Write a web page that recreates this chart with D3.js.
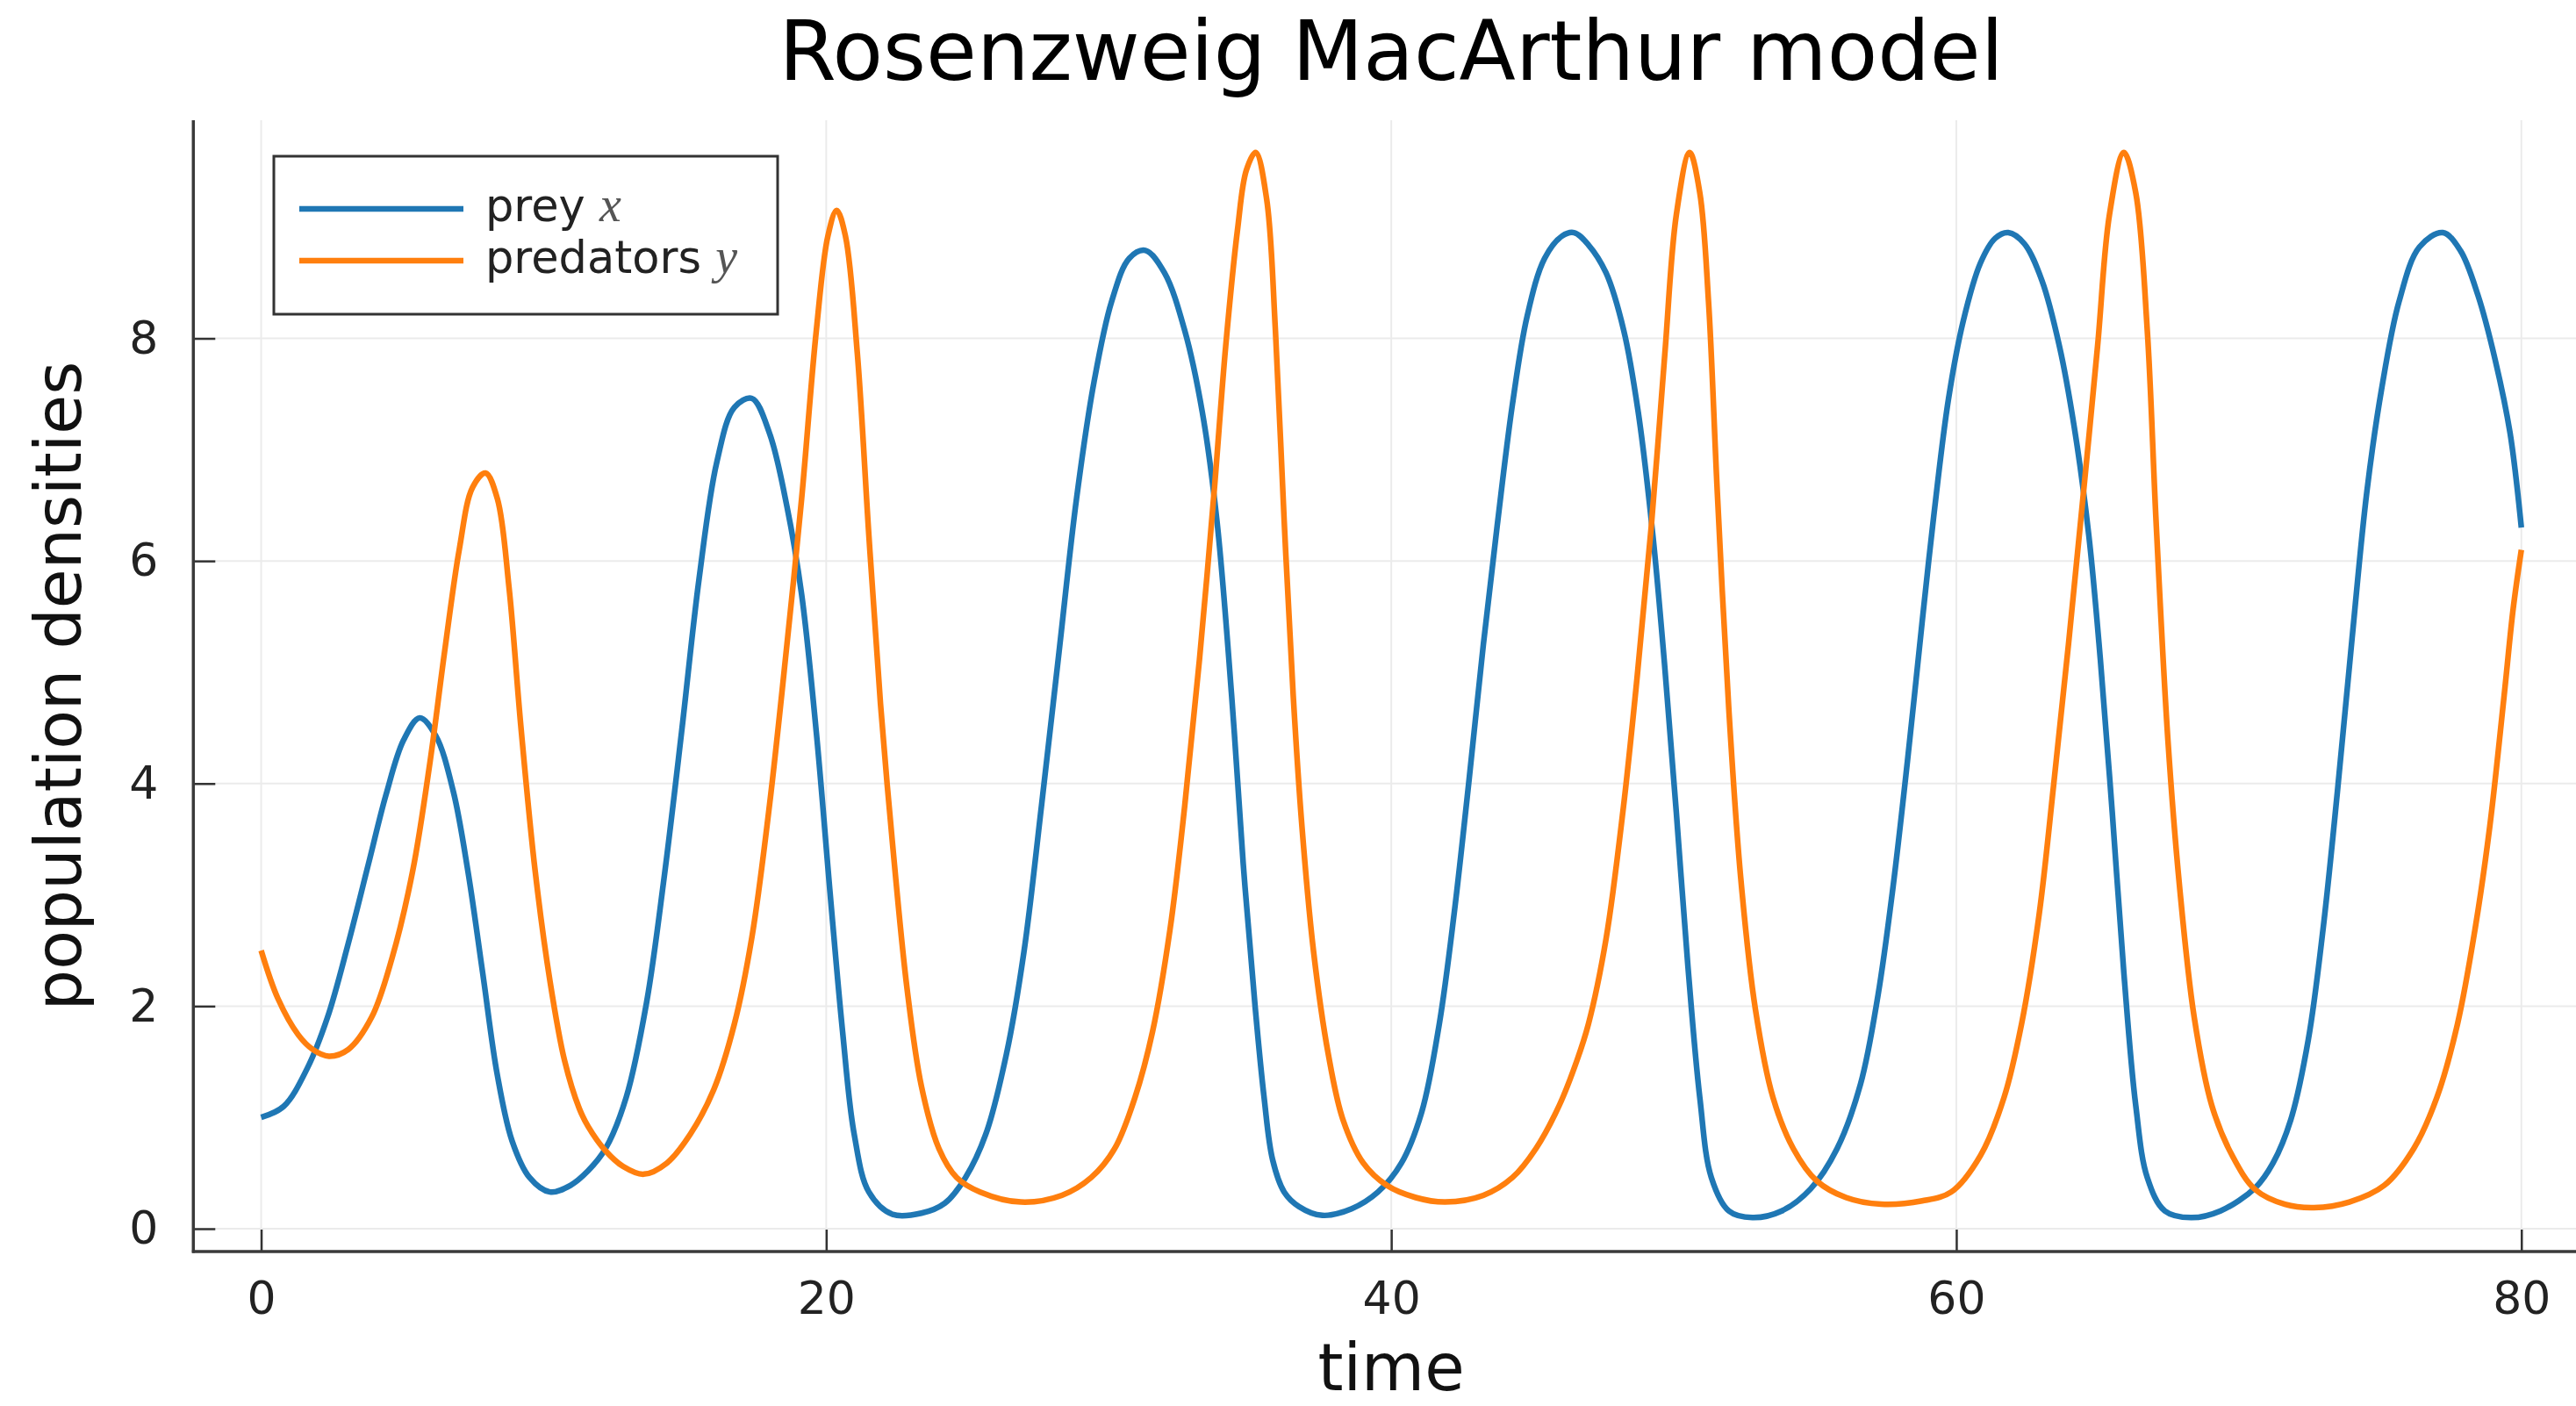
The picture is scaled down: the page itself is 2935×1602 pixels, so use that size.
<!DOCTYPE html>
<html><head><meta charset="utf-8">
<script src="https://cdn.jsdelivr.net/npm/d3@7"></script>
<style>html,body{margin:0;padding:0;background:#fff;} svg{display:block;font-family:"DejaVu Sans",sans-serif;}</style>
</head><body>
<svg id="chart" width="2935" height="1602"></svg>
<script>
const chartTitle = "Rosenzweig MacArthur model";
const xLabel = "time";
const yLabel = "population densities";
const xTicks = [0, 20, 40, 60, 80];
const yTicks = [0, 2, 4, 6, 8];
const seriesNames = ["prey ", "predators "];
const seriesMath = ["x", "y"];
const seriesColors = ["#1f77b4", "#ff7f0e"];

const preyTime = [0, 0.8, 1.63, 2.35, 3.08, 3.8, 4.42, 5.04, 5.61, 6.18, 6.8, 7.32, 7.84, 8.36, 8.88, 9.5, 10.22, 10.95, 11.57, 12.19, 12.92, 13.64, 14.26, 14.88, 15.5, 16.13, 16.75, 17.37, 17.99, 18.61, 19.13, 19.65, 20.16, 20.58, 20.99, 21.51, 22.34, 23.37, 24.2, 24.93, 25.65, 26.38, 27.0, 27.62, 28.24, 28.86, 29.48, 30.1, 30.73, 31.3, 31.97, 32.69, 33.31, 33.83, 34.35, 34.76, 35.18, 35.49, 35.8, 36.21, 36.73, 37.56, 38.6, 39.53, 40.36, 41.08, 41.7, 42.22, 42.74, 43.26, 43.77, 44.29, 44.81, 45.43, 46.05, 46.47, 46.98, 47.6, 48.23, 48.74, 49.26, 49.68, 50.09, 50.5, 50.92, 51.33, 51.95, 52.78, 53.82, 54.85, 55.78, 56.61, 57.23, 57.75, 58.27, 58.79, 59.2, 59.72, 60.24, 60.86, 61.38, 61.84, 62.41, 63.03, 63.65, 64.17, 64.69, 65.1, 65.52, 65.93, 66.35, 66.76, 67.38, 68.31, 69.35, 70.59, 71.21, 71.84, 72.46, 72.98, 73.49, 74.01, 74.53, 75.05, 75.67, 76.39, 77.22, 77.84, 78.46, 79.08, 79.6, 80.0];
const preyValues = [1.0, 1.10, 1.44, 1.90, 2.56, 3.28, 3.90, 4.39, 4.59, 4.43, 3.93, 3.21, 2.30, 1.38, 0.79, 0.46, 0.33, 0.39, 0.52, 0.72, 1.18, 2.03, 3.15, 4.46, 5.84, 6.89, 7.38, 7.46, 7.15, 6.49, 5.70, 4.46, 2.95, 1.77, 0.85, 0.33, 0.13, 0.14, 0.23, 0.46, 0.85, 1.57, 2.49, 3.80, 5.18, 6.56, 7.61, 8.33, 8.72, 8.79, 8.59, 8.07, 7.34, 6.36, 4.79, 3.28, 2.0, 1.2, 0.62, 0.33, 0.20, 0.12, 0.18, 0.33, 0.59, 1.05, 1.84, 2.82, 4.00, 5.25, 6.36, 7.41, 8.20, 8.72, 8.92, 8.95, 8.84, 8.59, 8.07, 7.34, 6.23, 5.05, 3.74, 2.36, 1.18, 0.46, 0.16, 0.10, 0.16, 0.36, 0.72, 1.30, 2.10, 3.05, 4.20, 5.45, 6.40, 7.45, 8.15, 8.68, 8.90, 8.95, 8.85, 8.52, 7.93, 7.21, 6.23, 5.11, 3.74, 2.30, 1.11, 0.46, 0.16, 0.10, 0.16, 0.37, 0.59, 0.98, 1.70, 2.69, 3.93, 5.31, 6.62, 7.54, 8.33, 8.82, 8.95, 8.79, 8.39, 7.80, 7.15, 6.30];

const predTime = [0, 0.59, 1.32, 1.83, 2.4, 3.08, 3.91, 4.63, 5.36, 5.98, 6.49, 7.01, 7.48, 7.94, 8.36, 8.77, 9.19, 9.7, 10.22, 10.74, 11.26, 11.57, 12.19, 12.81, 13.54, 14.36, 15.19, 16.02, 16.75, 17.37, 17.99, 18.61, 19.13, 19.65, 20.06, 20.37, 20.68, 21.1, 21.51, 21.92, 22.34, 22.86, 23.37, 23.99, 24.62, 25.45, 26.89, 28.34, 29.38, 30.21, 30.93, 31.55, 32.17, 32.69, 33.21, 33.73, 34.14, 34.56, 34.87, 35.2, 35.59, 35.9, 36.21, 36.53, 36.84, 37.25, 37.77, 38.29, 39.01, 39.84, 40.87, 41.91, 43.26, 44.29, 45.12, 45.95, 46.57, 46.98, 47.6, 48.2, 48.7, 49.2, 49.68, 50.09, 50.56, 50.92, 51.23, 51.54, 51.95, 52.37, 52.89, 53.51, 54.23, 55.06, 56.1, 57.34, 58.79, 59.82, 60.86, 61.69, 62.31, 62.93, 63.45, 63.97, 64.48, 65.0, 65.42, 65.93, 66.35, 66.76, 67.07, 67.49, 67.9, 68.42, 69.04, 69.76, 70.59, 71.63, 72.66, 73.91, 75.15, 76.19, 77.01, 77.74, 78.36, 78.88, 79.39, 79.71, 80.0];
const predValues = [2.5, 2.07, 1.74, 1.61, 1.55, 1.61, 1.90, 2.43, 3.21, 4.20, 5.18, 6.10, 6.66, 6.79, 6.56, 5.77, 4.52, 3.21, 2.23, 1.51, 1.08, 0.92, 0.70, 0.56, 0.49, 0.59, 0.85, 1.25, 1.84, 2.62, 3.80, 5.25, 6.56, 8.07, 8.92, 9.15, 8.92, 7.87, 6.23, 4.72, 3.48, 2.16, 1.28, 0.72, 0.46, 0.33, 0.24, 0.30, 0.46, 0.72, 1.18, 1.77, 2.69, 3.80, 5.11, 6.62, 7.93, 8.98, 9.51, 9.67, 9.25, 8.07, 6.36, 4.79, 3.61, 2.49, 1.57, 0.98, 0.59, 0.39, 0.28, 0.24, 0.30, 0.46, 0.72, 1.11, 1.51, 1.84, 2.60, 3.75, 4.95, 6.30, 7.85, 9.11, 9.67, 9.31, 8.33, 6.62, 4.66, 3.15, 1.97, 1.18, 0.72, 0.43, 0.28, 0.22, 0.25, 0.33, 0.66, 1.18, 1.84, 2.82, 4.00, 5.25, 6.56, 7.93, 9.11, 9.67, 9.31, 8.07, 6.36, 4.39, 3.08, 1.90, 1.11, 0.66, 0.35, 0.22, 0.19, 0.24, 0.39, 0.72, 1.18, 1.84, 2.69, 3.61, 4.79, 5.57, 6.10];

const series = [
  preyTime.map((t, i) => ({t, v: preyValues[i]})),
  predTime.map((t, i) => ({t, v: predValues[i]}))
];

const W = 2935, H = 1602;
const svg = d3.select("#chart");
const x = d3.scaleLinear().domain([-2.4, 82.4]).range([220.3, 2950]);
const y = d3.scaleLinear().domain([-0.205, 9.96]).range([1426, 137]);
const [xl, xr] = x.range();
const [yb, yt] = y.range();

// grid
const grid = svg.append("g").attr("stroke", "#ebebeb").attr("stroke-width", 2);
grid.selectAll("line.gx").data(xTicks).join("line")
  .attr("x1", d => x(d)).attr("x2", d => x(d)).attr("y1", yt).attr("y2", yb);
grid.selectAll("line.gy").data(yTicks).join("line")
  .attr("x1", xl).attr("x2", xr).attr("y1", d => y(d)).attr("y2", d => y(d));

// axes
const xAxis = d3.axisBottom(x).tickValues(xTicks).tickSize(-25).tickPadding(34).tickFormat(d3.format("d"));
const yAxis = d3.axisLeft(y).tickValues(yTicks).tickSize(-25).tickPadding(40).tickFormat(d3.format("d"));
const gx = svg.append("g").attr("transform", `translate(0,${yb})`).call(xAxis);
const gy = svg.append("g").attr("transform", `translate(${xl},0)`).call(yAxis);
[gx, gy].forEach(g => {
  g.select(".domain").remove();
  g.selectAll(".tick line").attr("stroke", "#333").attr("stroke-width", 2.5);
  g.selectAll(".tick text").attr("fill", "#222").style("font-family", "DejaVu Sans").style("font-size", "52px");
});
svg.append("line").attr("x1", xl).attr("x2", xl).attr("y1", yt).attr("y2", yb + 1.5)
  .attr("stroke", "#3a3a3a").attr("stroke-width", 3.5);
svg.append("line").attr("x1", xl - 1.5).attr("x2", W).attr("y1", yb).attr("y2", yb)
  .attr("stroke", "#3a3a3a").attr("stroke-width", 3.5);

// lines
const line = d3.line().x(d => x(d.t)).y(d => y(d.v)).curve(d3.curveCatmullRom.alpha(0.5));
svg.append("g").selectAll("path").data(series).join("path")
  .attr("d", line).attr("fill", "none")
  .attr("stroke", (d, i) => seriesColors[i]).attr("stroke-width", 6.5)
  .attr("stroke-linejoin", "round");

// title and labels
svg.append("text").attr("x", (xl + xr) / 2).attr("y", 91).attr("text-anchor", "middle")
  .style("font-size", "94px").attr("fill", "#000").text(chartTitle);
svg.append("text").attr("x", (xl + xr) / 2).attr("y", 1584).attr("text-anchor", "middle")
  .style("font-size", "74px").attr("fill", "#111").text(xLabel);
svg.append("text").attr("transform", `translate(92,${(yt + yb) / 2}) rotate(-90)`).attr("text-anchor", "middle")
  .style("font-size", "73px").attr("fill", "#111").text(yLabel);

// legend
const leg = svg.append("g");
leg.append("rect").attr("x", 312).attr("y", 178).attr("width", 574).attr("height", 180)
  .attr("fill", "#fff").attr("stroke", "#333").attr("stroke-width", 3);
const rows = leg.selectAll("g.row").data(seriesNames).join("g")
  .attr("transform", (d, i) => `translate(0,${238 + i * 59})`);
rows.append("line").attr("x1", 341).attr("x2", 528).attr("y1", 0).attr("y2", 0)
  .attr("stroke", (d, i) => seriesColors[i]).attr("stroke-width", 6.5);
const lt = rows.append("text").attr("x", 553).attr("y", 14).style("font-size", "51px").attr("fill", "#222");
lt.append("tspan").text(d => d);
lt.append("tspan").style("font-family", "Liberation Serif").style("font-style", "italic")
  .style("font-size", "56px").attr("fill", "#555").text((d, i) => seriesMath[i]);
</script>
</body></html>
